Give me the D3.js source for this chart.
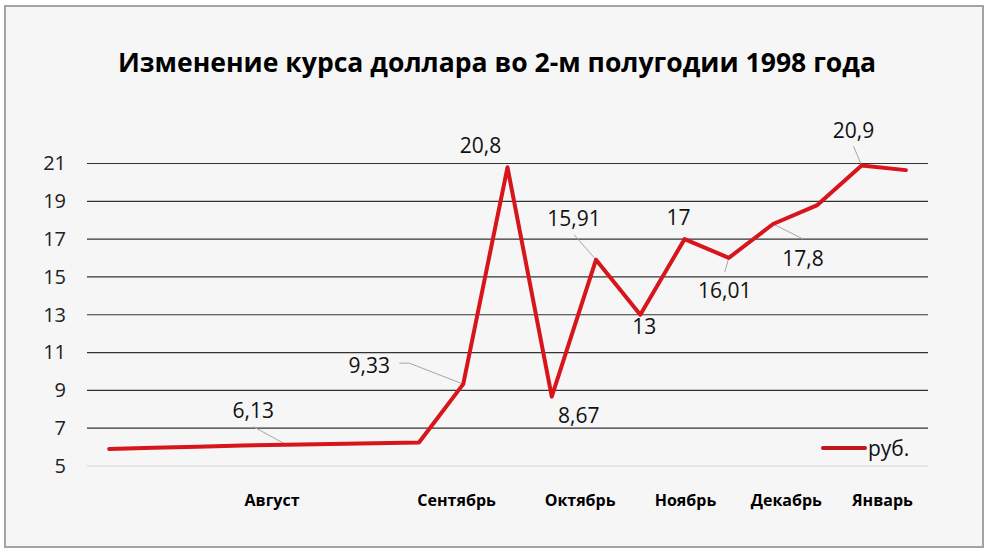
<!DOCTYPE html>
<html>
<head>
<meta charset="utf-8">
<script src="https://cdn.jsdelivr.net/npm/d3@7"></script>
<style>
  body { margin: 0; background: #ffffff; }
  svg { display: block; }
  text { font-family: "Open Sans", "Noto Sans", sans-serif; }
</style>
</head>
<body>
<script>
var width = 988;
var height = 553;

// курс рубля к доллару, по точкам графика
var values = [5.9, 5.96, 6.02, 6.08, 6.13, 6.16, 6.2, 6.24, 9.33, 20.8,
              8.67, 15.91, 13, 17, 16.01, 17.8, 18.8, 20.9, 20.65];
var yTicks = [5, 7, 9, 11, 13, 15, 17, 19, 21];
var months = ["Август", "Сентябрь", "Октябрь", "Ноябрь", "Декабрь", "Январь"];
var monthPos = [3.68, 7.85, 10.64, 13.02, 15.3, 17.47];
// подписи данных: индекс точки, текст
var labelIdx = [4, 8, 9, 10, 11, 12, 13, 14, 15, 17];
var labelText = ["6,13", "9,33", "20,8", "8,67", "15,91", "13", "17", "16,01", "17,8", "20,9"];

var svg = d3.select("body").append("svg")
    .attr("width", width)
    .attr("height", height);

svg.append("rect")
    .attr("x", 5)
    .attr("y", 6)
    .attr("width", 978)
    .attr("height", 541)
    .attr("fill", "#f6f6f6")
    .attr("stroke", "#a3a3a3")
    .attr("stroke-width", 2);

var xScale = d3.scaleLinear()
    .domain([-0.5, values.length - 0.5])
    .range([87, 928]);

var yScale = d3.scaleLinear()
    .domain([5, 21])
    .range([466, 163.5]);

// заголовок
svg.append("text")
    .attr("x", 497)
    .attr("y", 72)
    .attr("text-anchor", "middle")
    .attr("font-size", 27)
    .attr("font-weight", "bold")
    .attr("fill", "#000")
    .attr("textLength", 758)
    .attr("lengthAdjust", "spacingAndGlyphs")
    .text("Изменение курса доллара во 2-м полугодии 1998 года");

// сетка
svg.append("g")
    .selectAll("line")
    .data(yTicks)
    .enter()
    .append("line")
    .attr("x1", 87)
    .attr("x2", 928)
    .attr("y1", function(d) { return yScale(d); })
    .attr("y2", function(d) { return yScale(d); })
    .attr("stroke", function(d) { return d == 5 ? "#d4d4d4" : "#333"; })
    .attr("stroke-width", 1.2);

var yAxis = svg.append("g")
    .attr("transform", "translate(66,0)")
    .call(d3.axisLeft(yScale).tickValues(yTicks).tickSize(0).tickPadding(0));
yAxis.select(".domain").remove();
yAxis.selectAll("text")
    .attr("font-size", 20)
    .attr("fill", "#222")
    .style("font-family", "'Open Sans', sans-serif");

// подписи месяцев
svg.append("g")
    .selectAll("text")
    .data(months)
    .enter()
    .append("text")
    .attr("x", function(d, i) { return xScale(monthPos[i]); })
    .attr("y", 506)
    .attr("text-anchor", "middle")
    .attr("font-size", 16)
    .attr("font-weight", "bold")
    .attr("fill", "#000")
    .text(function(d) { return d; });

var line = d3.line()
    .x(function(d, i) { return xScale(i); })
    .y(function(d) { return yScale(d); });

// выноски и подписи
var labelOffsets = {
    4: [-33, -34], 8: [-94, -19], 9: [-27, -22], 10: [27, 19], 11: [-22, -41],
    12: [4, 12], 13: [-6, -22], 14: [-4, 33], 15: [30, 34], 17: [-8, -35]
};
var leaders = [4, 8, 11, 14, 15, 17];

var labels = labelIdx.map(function(d, i) {
    return { idx: d, text: labelText[i], v: values[d] };
});

svg.append("g")
    .selectAll("path")
    .data(labels.filter(function(d) { return leaders.indexOf(d.idx) >= 0; }))
    .enter()
    .append("path")
    .attr("fill", "none")
    .attr("stroke", "#a6a6a6")
    .attr("stroke-width", 1)
    .attr("d", function(d) {
        var px = xScale(d.idx), py = yScale(d.v);
        var o = labelOffsets[d.idx];
        var lx = px + o[0], ly = py + o[1];
        if (d.idx == 8) {
            return "M" + (lx + 30) + "," + (ly - 2) + "L" + (lx + 40) + "," + (ly - 2) + "L" + px + "," + py;
        }
        var ey = ly + (o[1] < 0 ? 16 : -19);
        return "M" + lx + "," + ey + "L" + px + "," + py;
    });

svg.append("path")
    .datum(values)
    .attr("fill", "none")
    .attr("stroke", "#d7151b")
    .attr("stroke-width", 4)
    .attr("stroke-linejoin", "round")
    .attr("stroke-linecap", "round")
    .attr("d", line);

svg.append("g")
    .selectAll("text")
    .data(labels)
    .enter()
    .append("text")
    .attr("x", function(d) { return xScale(d.idx) + labelOffsets[d.idx][0]; })
    .attr("y", function(d) { return yScale(d.v) + labelOffsets[d.idx][1]; })
    .attr("dy", "0.36em")
    .attr("text-anchor", "middle")
    .attr("font-size", 21)
    .attr("fill", "#111")
    .text(function(d) { return d.text; });

// легенда
svg.append("line")
    .attr("x1", 823)
    .attr("x2", 865)
    .attr("y1", 448)
    .attr("y2", 448)
    .attr("stroke", "#c0161c")
    .attr("stroke-width", 4)
    .attr("stroke-linecap", "round");

svg.append("text")
    .attr("x", 868)
    .attr("y", 448)
    .attr("dy", "0.36em")
    .attr("font-size", 21)
    .attr("fill", "#111")
    .text("руб.");
</script>
</body>
</html>
